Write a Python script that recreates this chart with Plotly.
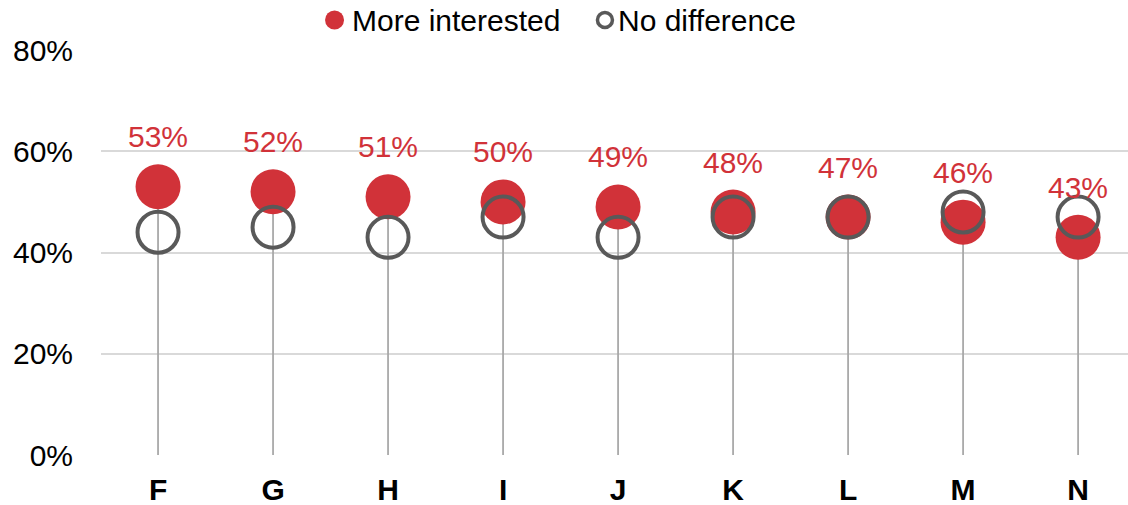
import plotly.graph_objects as go

categories = ["F", "G", "H", "I", "J", "K", "L", "M", "N"]
more_interested = [53, 52, 51, 50, 49, 48, 47, 46, 43]
no_difference = [44, 45, 43, 47, 43, 47, 47, 48, 47]
y_ticks = [0, 20, 40, 60, 80]

RED = "#D13239"
GREY = "#595959"
FONT = "Liberation Sans, Arial, sans-serif"

# drop lines from 0 up to the red marker
line_x, line_y = [], []
for c, v in zip(categories, more_interested):
    line_x += [c, c, None]
    line_y += [0, v, None]

fig = go.Figure()
fig.add_trace(go.Scatter(
    x=line_x, y=line_y, mode="lines",
    line=dict(color="#A6A6A6", width=1.75),
    showlegend=False, hoverinfo="skip",
))
fig.add_trace(go.Scatter(
    x=categories, y=more_interested, mode="markers",
    name="More interested", showlegend=False,
    marker=dict(size=45, color=RED, line=dict(width=0)),
))
fig.add_trace(go.Scatter(
    x=categories, y=no_difference, mode="markers",
    name="No difference", showlegend=False,
    marker=dict(size=41, color="rgba(0,0,0,0)", line=dict(color=GREY, width=4)),
))

for c, v in zip(categories, more_interested):
    fig.add_annotation(
        x=c, y=v, text=f"{v}%", showarrow=False,
        yshift=50, font=dict(size=30, color=RED, family=FONT),
    )

# legend drawn by hand so the symbols can be as large as in the original
legend_y = 1.074
fig.add_shape(type="circle", xref="paper", yref="paper",
              xsizemode="pixel", ysizemode="pixel",
              xanchor=0.2274, yanchor=legend_y,
              x0=-9.5, x1=9.5, y0=-9.5, y1=9.5,
              fillcolor=RED, line=dict(width=0))
fig.add_annotation(xref="paper", yref="paper", x=0.2425, y=legend_y,
                   xanchor="left", yanchor="middle", showarrow=False,
                   text="More interested", font=dict(size=30, family=FONT))
fig.add_shape(type="circle", xref="paper", yref="paper",
              xsizemode="pixel", ysizemode="pixel",
              xanchor=0.4907, yanchor=legend_y,
              x0=-7.5, x1=7.5, y0=-7.5, y1=7.5,
              fillcolor="white", line=dict(color=GREY, width=3.5))
fig.add_annotation(xref="paper", yref="paper", x=0.5015, y=legend_y,
                   xanchor="left", yanchor="middle", showarrow=False,
                   text="No difference", font=dict(size=30, family=FONT))

fig.update_layout(
    width=1128, height=505,
    margin=dict(l=101, r=0, t=50, b=50),
    plot_bgcolor="white", paper_bgcolor="white",
    font=dict(family=FONT, size=30, color="black"),
    showlegend=False,
)
fig.update_xaxes(
    type="category", range=[-0.496, 8.434], showgrid=False, zeroline=False,
    showline=False, ticks="outside", ticklen=8, tickcolor="rgba(0,0,0,0)",
    automargin=False,
    tickfont=dict(size=30, family=FONT, weight="bold", color="black"),
)
fig.update_yaxes(
    range=[0, 80], tickvals=y_ticks, ticktext=[f"{t}%" for t in y_ticks],
    showgrid=True, gridcolor="#D9D9D9", gridwidth=1.75, zeroline=False,
    ticks="outside", ticklen=21, tickcolor="rgba(0,0,0,0)", automargin=False,
    tickfont=dict(size=30, family=FONT, color="black"),
)

fig.write_html("out.html", config={"displayModeBar": False},
               post_script="document.body.style.margin='0';")
